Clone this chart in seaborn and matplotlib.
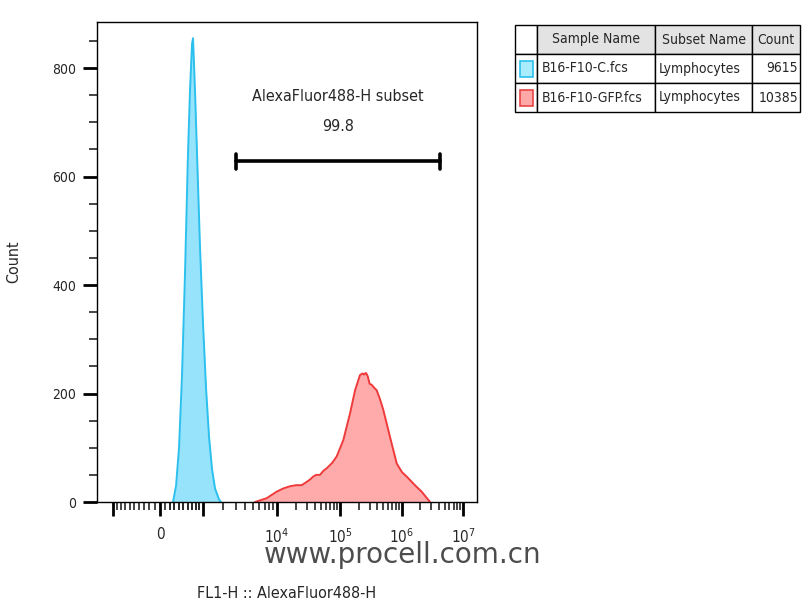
import numpy as np
import pandas as pd
import matplotlib
matplotlib.use("Agg")
import matplotlib.pyplot as plt
import seaborn as sns
from matplotlib.patches import Rectangle

# histogram outlines (fluorescence value, event count)
control_x = [270, 335, 400, 465, 535, 605, 655, 705, 730, 780, 835, 915,
             1000, 1127, 1261, 1405, 1556, 1776, 1893]
control_y = [0, 30, 100, 230, 420, 640, 760, 845, 855, 760, 640, 470,
             330, 210, 120, 60, 25, 5, 0]

gfp_x = [5300, 7430, 9900, 12600, 16100, 20000, 24700, 29600, 34000, 37700,
         42000, 48200, 55000, 61500, 75000, 88700, 113000, 145000, 175000,
         210000, 232000, 244000, 262000, 280000, 300000, 325000, 360000,
         391000, 440000, 499000, 640000, 822000, 1000000, 1190000, 1630000,
         2100000, 2880000]
gfp_y = [0, 7, 19, 25, 29, 31, 31, 37, 42, 47, 50, 50, 58, 62, 72, 84, 114,
         163, 206, 234, 237, 235, 238, 232, 218, 216, 210, 206, 190, 170,
         120, 71, 55, 47, 31, 19, 0]

samples = ["B16-F10-C.fcs", "B16-F10-GFP.fcs"]
subsets = ["Lymphocytes", "Lymphocytes"]
counts = ["9615", "10385"]

gate_low, gate_high, gate_level = 3000, 4.2e6, 628
gate_name = "AlexaFluor488-H subset"
gate_pct = "99.8"

x_major = [-1e3, 0, 1e3, 1e4, 1e5, 1e6, 1e7]
x_labels = ["", "0", "", "$10^4$", "$10^5$", "$10^6$", "$10^7$"]

# biexponential-like display scale (value -> screen position)
anchor_v = np.array([-1e5, -1e3, 0, 1e3, 1e4, 1e5, 1e6, 1e7, 1e8])
anchor_p = np.array([-6, 113, 160, 203, 277, 340, 402, 463, 524], dtype=float)
anchor_s = np.arcsinh(anchor_v / 1000)


def fwd(v):
    return np.interp(np.arcsinh(np.asarray(v, dtype=float) / 1000), anchor_s, anchor_p)


def inv(p):
    return 1000 * np.sinh(np.interp(np.asarray(p, dtype=float), anchor_p, anchor_s))


sns.set_style("ticks")
plt.rcParams["font.family"] = ["DejaVu Sans"]
plt.rcParams["font.stretch"] = "condensed"
plt.rcParams["mathtext.fontset"] = "dejavusans"

fig = plt.figure(figsize=(8.04, 6), dpi=100)
ax = fig.add_axes([97 / 804, 1 - 502 / 600, 380 / 804, 480 / 600])
ax.set_xscale("function", functions=(fwd, inv))

ctrl = pd.DataFrame({"x": control_x, "y": control_y})
gfp = pd.DataFrame({"x": gfp_x, "y": gfp_y})

ax.fill_between(ctrl["x"], ctrl["y"], color="#96e3fb", lw=0)
sns.lineplot(data=ctrl, x="x", y="y", ax=ax, color="#2cc0ee", lw=1.4, sort=False)
ax.fill_between(gfp["x"], gfp["y"], color="#ffabab", lw=0)
sns.lineplot(data=gfp, x="x", y="y", ax=ax, color="#ee3a3a", lw=1.4, sort=False)

# gate bar
ax.plot([gate_low, gate_high], [gate_level, gate_level], color="black", lw=2.6)
ax.plot([gate_low, gate_low], [gate_level - 14, gate_level + 14], color="black", lw=2.6)
ax.plot([gate_high, gate_high], [gate_level - 14, gate_level + 14], color="black", lw=2.6)
mid = inv((fwd(gate_low) + fwd(gate_high)) / 2)
ax.text(mid, 748, gate_name, ha="center", va="center", fontsize=11.5)
ax.text(mid, 693, gate_pct, ha="center", va="center", fontsize=11.5)

ax.set_xlim(inv(97), inv(477))
ax.set_ylim(0, 885)

minor = []
for d in [100, 1000, 10000, 100000, 1000000]:
    minor += [m * d for m in range(2, 10)]
minor += [-m * 100 for m in range(1, 10)] + [m * 100 for m in range(1, 10)]
ax.set_xticks(x_major)
ax.set_xticklabels(x_labels)
ax.set_xticks(minor, minor=True)
ax.set_yticks([0, 200, 400, 600, 800])
ax.set_yticks(np.arange(50, 885, 50), minor=True)
ax.tick_params(axis="both", which="major", length=10, width=2, direction="out",
               labelsize=10, color="black")
ax.tick_params(axis="x", which="major", pad=8, labelsize=11)
ax.tick_params(axis="y", which="major", pad=5)
ax.tick_params(axis="both", which="minor", length=6, width=1.2, direction="out")
for s in ax.spines.values():
    s.set_visible(True)
    s.set_linewidth(1.0)
    s.set_color("black")
ax.set_xlabel("FL1-H :: AlexaFluor488-H", fontsize=11.5, labelpad=29)
ax.set_ylabel("Count", fontsize=11.5, labelpad=22)

# sample table
tax = fig.add_axes([515 / 804, 1 - 112 / 600, 285 / 804, 87 / 600])
tax.axis("off")
cell_text = [["", "Sample Name", "Subset Name", "Count"]]
for a, b, c in zip(samples, subsets, counts):
    cell_text.append(["", a, b, c])
widths = np.array([22, 118, 97, 48]) / 285
tbl = tax.table(cellText=cell_text, colWidths=widths, bbox=[0, 0, 1, 1], cellLoc="left")
tbl.auto_set_font_size(False)
for (r, c), cell in tbl.get_celld().items():
    cell.set_linewidth(1.0)
    cell.set_edgecolor("black")
    txt = cell.get_text()
    txt.set_fontsize(10)
    txt.set_fontstretch("condensed")
    cell.PAD = 0.04
    if r == 0:
        cell.set_facecolor("#e3e3e3")
        cell._loc = "center"
        txt.set_horizontalalignment("center")
    if c == 0 and r == 0:
        cell.set_facecolor("white")
    if r > 0 and c == 3:
        cell._loc = "right"
        txt.set_horizontalalignment("right")
swatches = [("#a8ecfd", "#2cc0ee"), ("#ffa8a8", "#e84545")]
for i, (fc, ec) in enumerate(swatches):
    yc = 1 - (1.5 + i) / 3 * 1.0
    tax.add_patch(Rectangle((4.5 / 285, yc - 8 / 87), 13 / 285, 16 / 87,
                            facecolor=fc, edgecolor=ec, lw=1.2,
                            transform=tax.transAxes, zorder=5))

fig.text(403 / 804, 1 - 555 / 600, "www.procell.com.cn", fontsize=20,
         family=["DejaVu Sans"], stretch="normal", color="#3a3a3a",
         ha="center", va="center", alpha=0.9)

fig.savefig("out.png", dpi=100)
